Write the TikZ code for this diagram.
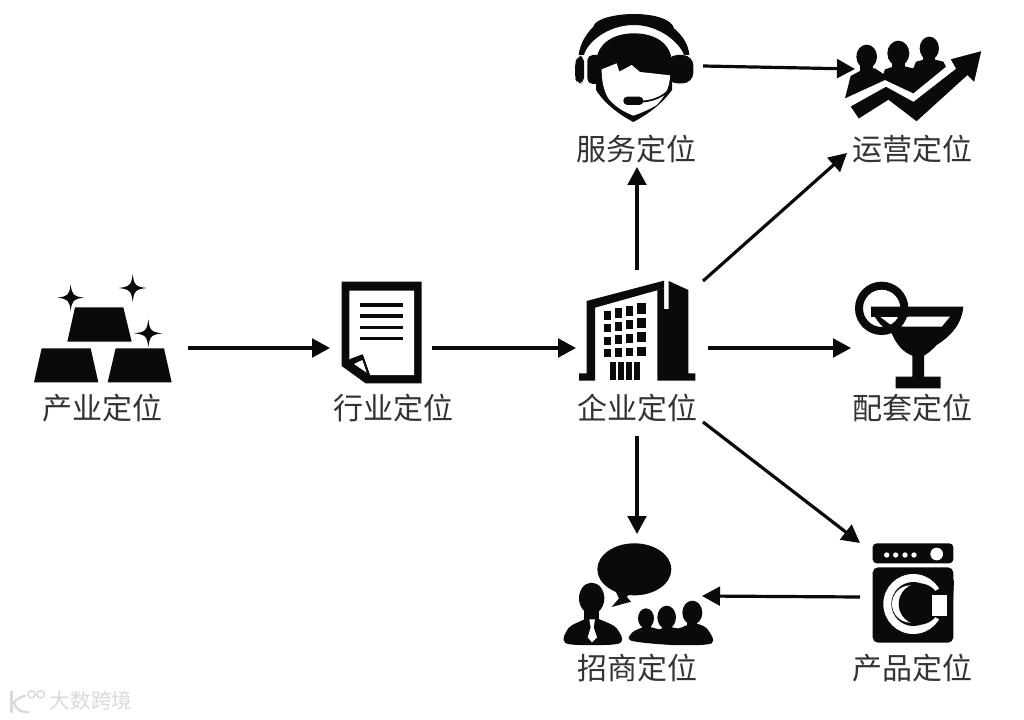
\documentclass[tikz,border=0pt]{standalone}
\usepackage{fontspec}
\setmainfont{Noto Sans CJK SC}
\newfontfamily\cjk{Noto Sans CJK SC}
\usetikzlibrary{arrows.meta}
\definecolor{ink}{HTML}{0A0A0A}
\definecolor{labelink}{HTML}{333333}
\definecolor{wm}{HTML}{DADADA}
\newcommand{\sparkle}[3]{%
  \fill[ink] (#1-#3,#2) .. controls (#1-#3*.2,#2-#3*.1) and (#1-#3*.1,#2-#3*.2) .. (#1,#2-#3)
   .. controls (#1+#3*.1,#2-#3*.2) and (#1+#3*.2,#2-#3*.1) .. (#1+#3,#2)
   .. controls (#1+#3*.2,#2+#3*.1) and (#1+#3*.1,#2+#3*.2) .. (#1,#2+#3)
   .. controls (#1-#3*.1,#2+#3*.2) and (#1-#3*.2,#2+#3*.1) .. cycle;}
\tikzset{
  zoomed/.style 2 args={shift={(#1,#2)},x=0.25pt,y=-0.25pt},
  lbl/.style={font=\cjk\fontsize{22.5}{24}\selectfont,text=labelink,inner sep=0pt,anchor=center},
  conn/.style={draw=ink,line width=2.4pt,-{Triangle[length=13.5pt,width=14pt]}},
  wmtext/.style={font=\cjk\fontsize{15.5}{16}\selectfont,text=wm,inner sep=0pt,anchor=center},
}
\begin{document}
\begin{tikzpicture}[x=0.75pt,y=-0.75pt]
\useasboundingbox (0,0) rectangle (1024,720);
\fill[white] (0,0) rectangle (1024,720);

% ---- labels
\node[lbl] (chanye) at (102,408) {产业定位};
\node[lbl] (hangye) at (393,408) {行业定位};
\node[lbl] (qiye) at (637,408) {企业定位};
\node[lbl] (peitao) at (912,408) {配套定位};
\node[lbl] (fuwu) at (636,149) {服务定位};
\node[lbl] (yunying) at (912,149) {运营定位};
\node[lbl] (zhaoshang) at (637,668) {招商定位};
\node[lbl] (chanpin) at (912,668) {产品定位};

% ---- gold bars
\begin{scope}[zoomed={20}{260}]
 \fill[ink] (142,245)--(335,245)--(310,142)--(165,142)--cycle;
 \fill[ink] (42,367)--(235,367)--(212,265)--(65,265)--cycle;
 \fill[ink] (263,367)--(455,367)--(432,265)--(287,265)--cycle;
 \sparkle{152}{113}{40}
 \sparkle{338}{84}{42}
 \sparkle{385}{220}{42}
\end{scope}

% ---- document
\begin{scope}[zoomed={20}{260}]
 \fill[ink] (965,65)--(1205,65)--(1205,370)--(1037,370)--(965,318)--cycle;
 \fill[white] (988,92)--(1182,92)--(1182,345)--(1050,345)--(1028,283)--(988,298)--cycle;
 \fill[ink] (988,298)--(1028,283)--(1050,345)--(1040,350)--cycle;
 \fill[white] (1002,312)--(1027,300)--(1040,338)--cycle;
 \foreach \yy in {135,168,202,235}
  \fill[ink] (1020,\yy-5) rectangle (1150,\yy+5);
\end{scope}

% ---- building
\begin{scope}[zoomed={560}{265}]
 \fill[ink] (57,347)--(57,325)--(80,325)--(80,108)--(312,47)--(312,70)--(105,128)--(105,347)--cycle;
 \fill[ink] (292,75)--(312,70)--(312,132)--(326,132)--(326,48)--(385,75)--(385,325)--(406,325)--(406,347)--(292,347)--cycle;
 \foreach \xa/\xb/\ya/\yb in {133/154/138/165,165/186/130/158,197/220/123/152,232/257/115/147,
   133/154/177/201,165/186/170/197,197/220/165/192,232/257/158/188,
   133/154/215/240,165/186/211/237,197/220/206/234,232/257/202/232,
   133/154/252/277,165/186/250/275,197/220/248/273,232/257/247/273}
  \fill[ink] (\xa,\ya) rectangle (\xb,\yb);
 \foreach \xa/\xb in {150/168,174/192,197/215,221/240}
  \fill[ink] (\xa,290) rectangle (\xb,345);
\end{scope}

% ---- cocktail
\begin{scope}[zoomed={560}{265}]
 \fill[ink] (932,125)--(1210,125) .. controls (1205,180) and (1170,215) .. (1130,240)
   .. controls (1110,262) and (1095,270) .. (1092,272) -- (1092,335)--(1142,335)--(1142,370)--(1007,370)--(1007,335)--(1057,335)--(1057,272)
   .. controls (1030,262) and (1010,240) .. (995,205) .. controls (960,185) and (940,155) .. cycle;
 \fill[white] (960,155)--(1170,155)--(1145,185)--(1030,185)--(990,178)--cycle;
 \draw[ink,line width=6pt] (965,130) circle [radius=68];
 \fill[ink] (932,125) rectangle (1045,155);
\end{scope}

% ---- washing machine
\begin{scope}[zoomed={550}{530}]
 \fill[ink,rounded corners=3pt] (968,100)--(968,40)--(1210,40)--(1210,100)--cycle;
 \fill[ink,rounded corners=4pt] (968,112)--(1210,112)--(1210,338)--(968,338)--cycle;
 \foreach \xx in {1010,1037,1065,1092} \fill[white] (\xx,75) circle [radius=8];
 \fill[white] (1160,72) circle [radius=19];
 \fill[white] (1090,222) circle [radius=90];
 \fill[ink] (1090,222) circle [radius=66];
 \fill[ink] (1090,222)--(1212,150)--(1205,290)--cycle;
 \fill[white] (1082,222) circle [radius=56];
 \fill[ink] (1108,222) circle [radius=62];
 \fill[white] (1145,195) rectangle (1190,258);
\end{scope}

% ---- speech bubble and people
\begin{scope}[zoomed={550}{530}]
 \fill[ink] (253,118) ellipse [x radius=111,y radius=78];
 \fill[ink] (195,180)--(207,205)--(185,231)--(243,215)--(230,200)--(250,185)--cycle;
 \fill[ink] (125,205) ellipse [x radius=38,y radius=47];
 \fill[ink] (103,240) rectangle (147,280);
 \fill[ink] plot[smooth cycle,tension=.6] coordinates {(45,338)(55,295)(95,272)(125,262)(158,272)(200,295)(212,338)(125,345)};
 \fill[white] (118,268)--(135,268)--(131,292)--(141,322)--(126,337)--(113,322)--(122,292)--cycle;
 \fill[ink] (288,265) ellipse [x radius=24,y radius=30];
 \fill[ink] (350,262) ellipse [x radius=28,y radius=35];
 \fill[ink] (427,248) ellipse [x radius=30,y radius=36];
 \fill[ink] (275,280) rectangle (302,305);
 \fill[ink] (335,285) rectangle (365,310);
 \fill[ink] (412,270) rectangle (442,300);
 \fill[ink] plot[smooth cycle,tension=.5] coordinates {(243,332)(250,305)(290,290)(330,298)(350,288)(385,295)(430,280)(470,295)(485,340)(370,345)};
\end{scope}

% ---- headset
\begin{scope}[zoomed={560}{0}]
 \fill[ink] (100,80) .. controls (105,55) and (170,42) .. (222,42) .. controls (275,42) and (335,55) .. (342,85)
   .. controls (365,105) and (385,130) .. (388,165) -- (372,165)
   .. controls (360,130) and (300,75) .. (222,75) .. controls (140,75) and (80,130) .. (72,165) -- (56,165)
   .. controls (60,130) and (80,100) .. (100,80) -- cycle;
 \fill[ink,rounded corners=4pt] (82,165) rectangle (125,252);
 \fill[ink,rounded corners=8pt] (320,165) rectangle (400,250);
 \fill[ink,rounded corners=4pt] (45,190)--(52,168)--(72,168)--(72,250)--(52,250)--(45,235)--cycle;
 \fill[ink] (108,190) .. controls (110,130) and (160,100) .. (222,100)
   .. controls (285,100) and (335,130) .. (336,190) -- (336,270)
   .. controls (300,320) and (250,350) .. (220,366) .. controls (190,350) and (140,320) .. (108,270) -- cycle;
 \fill[white] (125,208)--(170,190)--(178,215)--(215,195)--(240,216)--(330,226)
   .. controls (330,265) and (310,295) .. (290,315) .. controls (265,330) and (240,340) .. (220,347)
   .. controls (190,335) and (165,320) .. (145,295) .. controls (130,270) and (125,240) .. cycle;
 \draw[ink,line width=1.3pt] (235,305) .. controls (270,305) and (300,295) .. (322,275);
 \fill[ink,rounded corners=3pt] (190,290) rectangle (250,315);
\end{scope}

% ---- people with rising arrow
\begin{scope}[zoomed={560}{0}]
 \fill[ink] (920,170) ellipse [x radius=31,y radius=36];
 \fill[ink] (1015,160) ellipse [x radius=33,y radius=38];
 \fill[ink] (1108,145) ellipse [x radius=29,y radius=35];
 \fill[ink] (900,190) rectangle (940,220);
 \fill[ink] (995,180) rectangle (1035,215);
 \fill[ink] (1090,165) rectangle (1126,195);
 \fill[ink] (855,295)--(872,228)--(915,205)--(945,205)--(970,222)--(975,208)--(1015,195)--(1060,205)--(1068,185)--(1108,175)--(1150,185)--(1158,200)--(1060,280)--(975,240)--cycle;
 \draw[white,line width=2.2pt,fill=ink] (865,318)--(978,255)--(1060,300)--(1182,205)--(1165,175)--(1270,147)--(1245,255)--(1222,232)--(1070,370)--(985,305)--(895,362)--cycle;
\end{scope}

% ---- watermark
\begin{scope}[zoomed={0}{675}]
 \draw[wm,line width=1.8pt,line cap=round] (35,50)--(35,112);
 \draw[wm,line width=1.8pt,line cap=round] (75,62) .. controls (50,70) and (42,80) .. (42,85) .. controls (50,105) and (65,112) .. (85,112);
 \draw[wm,line width=1.1pt] (95,58) circle [radius=11];
 \draw[wm,line width=1.1pt] (122,58) circle [radius=11];
\end{scope}
\node[wmtext] (wmark) at (91,701) {大数跨境};

% ---- connector ports
\coordinate (pChanyeE) at (188,348);
\coordinate (pHangyeW) at (330,348);
\coordinate (pHangyeE) at (432,348);
\coordinate (pQiyeW) at (576,348);
\coordinate (pQiyeE) at (708,348);
\coordinate (pPeitaoW) at (851,348);
\coordinate (pQiyeN) at (637,270);
\coordinate (pFuwuS) at (637,167);
\coordinate (pQiyeNE) at (703,281);
\coordinate (pYunyingSW) at (847,153);
\coordinate (pQiyeS) at (637,436);
\coordinate (pZhaoshangN) at (637,534);
\coordinate (pQiyeSE) at (703,422);
\coordinate (pChanpinNW) at (860,543);
\coordinate (pFuwuE) at (703,66);
\coordinate (pYunyingW) at (855,69);
\coordinate (pChanpinW) at (860,597);
\coordinate (pZhaoshangE) at (702,596);

\draw[conn] (pChanyeE) -- (pHangyeW);
\draw[conn] (pHangyeE) -- (pQiyeW);
\draw[conn] (pQiyeE) -- (pPeitaoW);
\draw[conn] (pQiyeN) -- (pFuwuS);
\draw[conn] (pQiyeNE) -- (pYunyingSW);
\draw[conn] (pQiyeS) -- (pZhaoshangN);
\draw[conn] (pQiyeSE) -- (pChanpinNW);
\draw[conn] (pFuwuE) -- (pYunyingW);
\draw[conn] (pChanpinW) -- (pZhaoshangE);
\end{tikzpicture}
\end{document}
